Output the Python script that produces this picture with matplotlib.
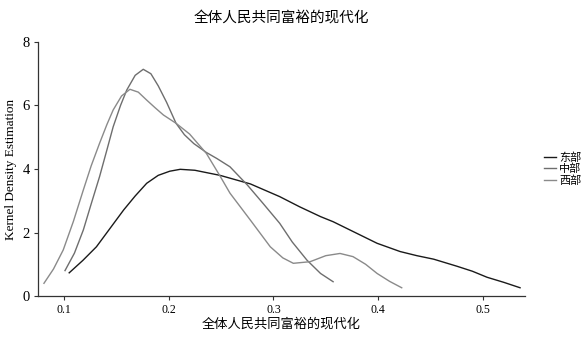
import matplotlib
matplotlib.use('Agg')
import matplotlib.pyplot as plt

plt.rcParams['font.family'] = ['Liberation Serif', 'Noto Sans CJK SC']

title = '全体人民共同富裕的现代化'
labels = ['东部', '中部', '西部']

# 东部
x_east = [0.105, 0.118, 0.131, 0.144, 0.157, 0.168, 0.179, 0.190, 0.201, 0.211,
          0.225, 0.249, 0.278, 0.306, 0.325, 0.345, 0.357, 0.378, 0.399, 0.421,
          0.437, 0.453, 0.475, 0.490, 0.504, 0.520, 0.5355]
y_east = [0.73, 1.12, 1.55, 2.13, 2.71, 3.15, 3.55, 3.80, 3.93, 3.99,
          3.96, 3.80, 3.53, 3.13, 2.81, 2.50, 2.34, 2.00, 1.66, 1.40,
          1.27, 1.16, 0.94, 0.78, 0.59, 0.43, 0.26]

# 中部
x_mid = [0.101, 0.110, 0.1185, 0.126, 0.134, 0.141, 0.147, 0.154, 0.160, 0.168,
         0.1757, 0.183, 0.190, 0.198, 0.207, 0.215, 0.224, 0.236, 0.246, 0.2585,
         0.275, 0.290, 0.306, 0.318, 0.332, 0.345, 0.357]
y_mid = [0.80, 1.35, 2.08, 2.90, 3.76, 4.60, 5.33, 6.00, 6.49, 6.95,
         7.14, 7.00, 6.62, 6.10, 5.44, 5.08, 4.80, 4.52, 4.33, 4.07,
         3.50, 2.92, 2.29, 1.70, 1.13, 0.71, 0.45]

# 西部
x_west = [0.0809, 0.090, 0.0993, 0.109, 0.1185, 0.126, 0.134, 0.141, 0.147, 0.155,
          0.163, 0.171, 0.179, 0.187, 0.195, 0.207, 0.220, 0.236, 0.249, 0.2585,
          0.278, 0.297, 0.309, 0.319, 0.335, 0.350, 0.3636, 0.376, 0.388, 0.399,
          0.411, 0.4225]
y_west = [0.40, 0.85, 1.45, 2.35, 3.34, 4.10, 4.81, 5.40, 5.86, 6.30,
          6.51, 6.42, 6.17, 5.93, 5.70, 5.44, 5.10, 4.49, 3.78, 3.24,
          2.39, 1.55, 1.20, 1.03, 1.08, 1.27, 1.34, 1.24, 1.00, 0.71,
          0.46, 0.26]

fig = plt.figure(figsize=(5.88, 3.4), dpi=100)
ax = fig.add_axes([0.0646, 0.1294, 0.8284, 0.7471])

ax.plot(x_east, y_east, color='#1a1a1a', lw=1.0, label=labels[0])
ax.plot(x_mid, y_mid, color='#6e6e6e', lw=1.0, label=labels[1])
ax.plot(x_west, y_west, color='#8a8a8a', lw=1.0, label=labels[2])

ax.set_xlim(0.0752, 0.5403)
ax.set_ylim(0, 8)
ax.set_xticks([0.1, 0.2, 0.3, 0.4, 0.5])
ax.set_xticklabels(['0.1', '0.2', '0.3', '0.4', '0.5'])
ax.set_yticks([0, 2, 4, 6, 8])

for s in ['top', 'right']:
    ax.spines[s].set_visible(False)
for s in ['left', 'bottom']:
    ax.spines[s].set_color('#333333')
    ax.spines[s].set_linewidth(0.9)

ax.tick_params(axis='x', direction='out', length=3, width=0.8, labelsize=8.5, pad=3, color='#333333')
ax.tick_params(axis='y', direction='out', length=3, width=0.8, labelsize=10.5, pad=3, color='#333333')

ax.set_ylabel('Kernel Density Estimation', fontsize=9.5, labelpad=4)
ax.set_xlabel(title, fontsize=9.5, labelpad=1)
ax.set_title(title, fontsize=10.5, pad=14)

ax.legend(loc='center left', bbox_to_anchor=(1.015, 0.5), frameon=False,
          fontsize=8, handlelength=1.1, handletextpad=0.3, labelspacing=0.1,
          borderaxespad=0.6)

fig.savefig('out.png', dpi=100)
